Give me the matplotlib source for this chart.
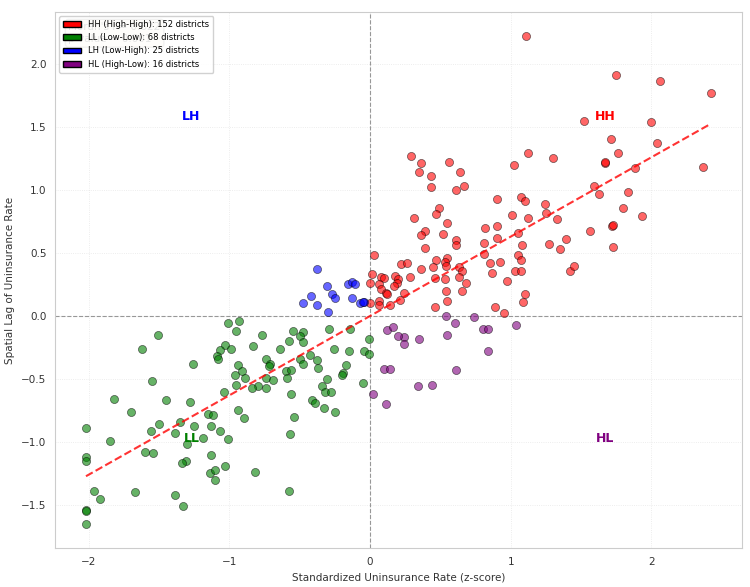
import numpy as np
import matplotlib
matplotlib.use("Agg")
import matplotlib.pyplot as plt
from matplotlib.patches import Patch

plt.rcParams["font.family"] = "DejaVu Sans"

# ============================
# data
# ============================
hh_x = [0.03, 0.22, 0.26, 0.01, 0.08, 0.10, 0.18, 0.20, 0.19, 0.28, 0.00, 0.06,
        0.17, 0.08, 0.11, 0.12, 0.24, 0.06, 0.06, 0.00, 0.14, 0.21, 0.29, 0.36,
        0.35, 0.43, 0.56, 0.64, 0.43, 0.61, 0.67, 0.90, 0.49, 0.47, 0.31, 0.55,
        0.82, 0.90, 0.90, 0.39, 0.36, 0.52, 0.61, 0.61, 0.81, 0.39, 0.81, 0.47,
        0.55, 0.45, 0.53, 0.54, 0.85, 0.92, 0.36, 0.63, 0.65, 0.63, 0.87, 0.46,
        0.53, 0.68, 0.97, 0.54, 0.65, 0.55, 0.46, 0.89, 0.95, 1.10, 1.09, 1.52,
        1.71, 1.76, 1.12, 1.02, 1.30, 1.67, 1.67, 1.88, 1.07, 1.10, 1.24, 1.25,
        1.59, 1.63, 1.83, 1.80, 1.01, 1.12, 1.33, 1.05, 1.56, 1.72, 1.73, 1.73,
        1.39, 1.27, 1.35, 1.08, 1.05, 1.07, 1.03, 1.07, 1.42, 1.45, 1.11, 1.75,
        2.06, 2.42, 2.00, 2.04, 2.37, 1.93]
hh_y = [0.48, 0.41, 0.42, 0.33, 0.31, 0.30, 0.32, 0.29, 0.26, 0.31, 0.26, 0.25,
        0.24, 0.21, 0.18, 0.17, 0.18, 0.12, 0.09, 0.10, 0.09, 0.13, 1.27, 1.21,
        1.14, 1.11, 1.22, 1.14, 1.02, 1.00, 1.03, 0.93, 0.86, 0.81, 0.78, 0.74,
        0.70, 0.71, 0.62, 0.67, 0.64, 0.65, 0.60, 0.56, 0.58, 0.54, 0.49, 0.44,
        0.46, 0.39, 0.43, 0.40, 0.42, 0.43, 0.37, 0.39, 0.36, 0.31, 0.34, 0.30,
        0.29, 0.26, 0.28, 0.20, 0.20, 0.12, 0.07, 0.07, 0.02, 0.17, 0.11, 1.55,
        1.40, 1.29, 1.29, 1.20, 1.25, 1.21, 1.22, 1.17, 0.94, 0.91, 0.89, 0.82,
        1.03, 0.97, 0.98, 0.86, 0.80, 0.78, 0.77, 0.66, 0.67, 0.71, 0.72, 0.55,
        0.61, 0.57, 0.53, 0.56, 0.48, 0.44, 0.36, 0.36, 0.36, 0.40, 2.22, 1.91,
        1.86, 1.77, 1.54, 1.37, 1.18, 0.79]

ll_x = [-1.51, -1.62, -1.26, -1.55, -1.82, -1.45, -1.28, -1.70, -2.02, -1.50,
        -1.56, -1.35, -1.39, -1.25, -1.15, -1.12, -1.13, -1.85, -1.19, -1.30,
        -2.02, -2.02, -1.60, -1.54, -1.13, -1.31, -1.34, -1.14, -1.10, -1.10,
        -1.96, -1.92, -1.67, -1.39, -1.33, -2.02, -2.02, -2.02,
        -0.95, -0.77, -0.55, -0.48, -0.50, -0.48, -0.58, -1.03, -1.07, -0.99,
        -0.83, -0.64, -1.09, -1.08, -0.26, -0.15, -0.04, -0.01, -0.01, -0.43,
        -0.74, -0.50, -0.48, -0.38, -0.94, -0.71, -0.72, -0.37, -0.17, -0.91,
        -0.96, -0.89, -0.74, -0.69, -0.60, -0.56, -0.59, -0.19, -0.20, -0.31,
        -0.95, -0.80, -0.84, -0.74, -0.34, -0.32, -0.28, -0.05, -1.04, -0.56,
        -0.41, -0.39, -0.33, -0.25, -0.94, -0.90, -0.54, -1.07, -1.01, -0.57,
        -1.03, -0.82, -0.58, -0.29, -0.14, -1.01, -0.93]
ll_y = [-0.15, -0.26, -0.38, -0.52, -0.66, -0.67, -0.68, -0.76, -0.89, -0.86,
        -0.91, -0.84, -0.93, -0.87, -0.78, -0.79, -0.87, -0.99, -0.97, -1.02,
        -1.12, -1.15, -1.08, -1.09, -1.10, -1.15, -1.17, -1.25, -1.22, -1.30,
        -1.39, -1.45, -1.40, -1.42, -1.51, -1.54, -1.55, -1.65,
        -0.12, -0.15, -0.12, -0.13, -0.16, -0.21, -0.20, -0.23, -0.27, -0.26,
        -0.24, -0.26, -0.32, -0.34, -0.26, -0.28, -0.28, -0.30, -0.18, -0.31,
        -0.34, -0.34, -0.38, -0.35, -0.39, -0.38, -0.40, -0.41, -0.39, -0.44,
        -0.47, -0.49, -0.49, -0.51, -0.44, -0.43, -0.49, -0.45, -0.47, -0.50,
        -0.55, -0.56, -0.57, -0.57, -0.56, -0.60, -0.60, -0.53, -0.60, -0.62,
        -0.67, -0.69, -0.73, -0.76, -0.75, -0.81, -0.80, -0.91, -0.98, -0.94,
        -1.19, -1.24, -1.39, -0.10, -0.10, -0.06, -0.04]

lh_x = [-0.38, -0.31, -0.16, -0.13, -0.11, -0.42, -0.27, -0.25, -0.48, -0.38,
        -0.13, -0.07, -0.04, -0.30, -0.05]
lh_y = [0.37, 0.24, 0.25, 0.27, 0.25, 0.16, 0.17, 0.14, 0.10, 0.09,
        0.14, 0.10, 0.11, 0.03, 0.11]

hl_x = [0.54, 0.60, 0.74, 0.80, 0.84, 0.12, 0.16, 0.55, 1.04, 0.84,
        0.61, 0.24, 0.24, 0.35, 0.34, 0.44, 0.20, 0.10, 0.14, 0.02, 0.11]
hl_y = [0.00, -0.06, -0.01, -0.10, -0.10, -0.11, -0.09, -0.15, -0.07, -0.28,
        -0.43, -0.17, -0.22, -0.18, -0.56, -0.55, -0.16, -0.42, -0.42, -0.62, -0.70]

legend_labels = [
    "HH (High-High): 152 districts",
    "LL (Low-Low): 68 districts",
    "LH (Low-High): 25 districts",
    "HL (High-Low): 16 districts",
]
moran_text = "Moran's I = 0.622\np-value = 0.001"

# ============================
# plot
# ============================
fig, ax = plt.subplots(figsize=(7.5, 5.87), dpi=100)
fig.subplots_adjust(left=0.073, right=0.989, top=0.980, bottom=0.066)

pt = dict(s=34, alpha=0.6, edgecolors="black", linewidths=0.5, zorder=3)
ax.scatter(hh_x, hh_y, c="red", **pt)
ax.scatter(ll_x, ll_y, c="green", **pt)
ax.scatter(lh_x, lh_y, c="blue", **pt)
ax.scatter(hl_x, hl_y, c="purple", **pt)

# regression line (Moran scatterplot slope)
all_x = np.concatenate([hh_x, ll_x, lh_x, hl_x])
all_y = np.concatenate([hh_y, ll_y, lh_y, hl_y])
slope, intercept = np.polyfit(all_x, all_y, 1)
xx = np.linspace(all_x.min(), all_x.max(), 100)
ax.plot(xx, slope * xx + intercept, "r--", linewidth=1.5, alpha=0.8, zorder=4)

ax.axhline(0, color="gray", linestyle="--", linewidth=0.8, alpha=0.8, zorder=2)
ax.axvline(0, color="gray", linestyle="--", linewidth=0.8, alpha=0.8, zorder=2)

# quadrant labels
qfont = dict(fontsize=9, fontweight="bold", ha="center", va="center")
ax.text(1.67, 1.58, "HH", color="red", **qfont)
ax.text(-1.27, 1.58, "LH", color="blue", **qfont)
ax.text(-1.27, -0.97, "LL", color="green", **qfont)
ax.text(1.67, -0.97, "HL", color="purple", **qfont)

ax.text(0.02, 0.98, moran_text, transform=ax.transAxes, fontsize=7.5,
        va="top", bbox=dict(boxstyle="round", facecolor="wheat", alpha=0.5))

handles = [
    Patch(facecolor="red", edgecolor="black"),
    Patch(facecolor="green", edgecolor="black"),
    Patch(facecolor="blue", edgecolor="black"),
    Patch(facecolor="purple", edgecolor="black"),
]
leg = ax.legend(handles, legend_labels, loc="upper left", fontsize=6,
                framealpha=0.9, borderpad=0.5, handlelength=2.2)
leg.set_zorder(10)

ax.set_xlabel("Standardized Uninsurance Rate (z-score)", fontsize=7.5, color="#333333")
ax.set_ylabel("Spatial Lag of Uninsurance Rate", fontsize=7.5, color="#333333")
ax.set_xticks([-2, -1, 0, 1, 2])
ax.set_yticks([-1.5, -1.0, -0.5, 0.0, 0.5, 1.0, 1.5, 2.0])
ax.tick_params(length=0, labelsize=7.5, labelcolor="#333333", pad=6)
ax.grid(True, color="#dddddd", linestyle=":", linewidth=0.6, alpha=0.7)
for sp in ax.spines.values():
    sp.set_color("#cccccc")

plt.savefig("out.png", dpi=100)
